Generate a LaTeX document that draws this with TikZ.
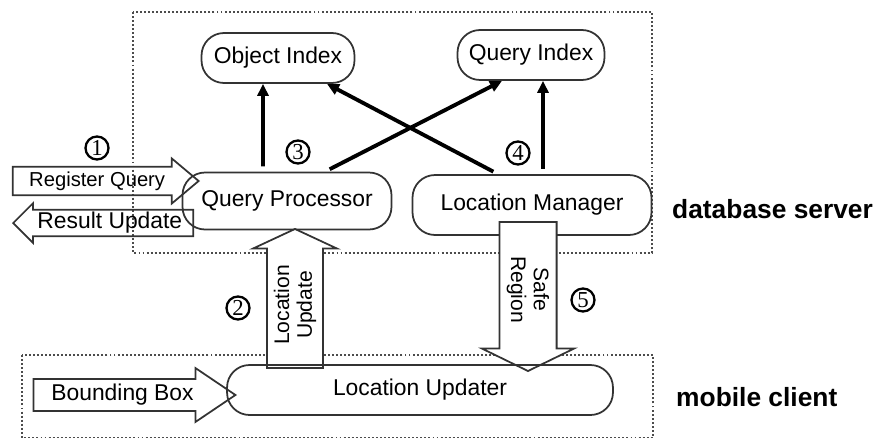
\documentclass[tikz,border=0pt]{standalone}
\usepackage{fontspec}
\setmainfont{Liberation Sans}
\newfontfamily\numfont{Liberation Serif}
\usetikzlibrary{positioning, shapes.arrows, arrows.meta}

\begin{document}
\begin{tikzpicture}[
        x=0.02cm, y=-0.02cm,
        module/.style={
            rectangle,
            draw=black!80,
            line width=1pt,
            rounded corners=0.45cm,
            inner sep=2pt,
            font=\fontsize{13}{15}\selectfont
        },
        flow/.style={
            single arrow,
            draw=black!80,
            line width=1pt,
            inner sep=1pt,
            align=center,
            font=\fontsize{13}{15}\selectfont
        },
        link/.style={
            -{Triangle[length=0.24cm,width=0.22cm]},
            line width=2.2pt,
            shorten <=3pt
        },
        stepno/.style={
            circle,
            draw,
            line width=1.3pt,
            minimum size=0.46cm,
            inner sep=0pt,
            font=\numfont\fontsize{13}{13}\selectfont
        },
        group/.style={
            draw=black!70,
            line width=1pt,
            dash pattern=on 1.1pt off 1.2pt
        },
        tier/.style={
            anchor=west,
            font=\bfseries\fontsize{15}{18}\selectfont
        }
    ]
    \useasboundingbox (0,0) rectangle (875,439);

    % Server and client tiers
    \draw[group] (133,12) rectangle (652,253);
    \draw[group] (22,355) rectangle (653,437.5);

    % Server modules
    \node[module, minimum width=3.06cm, minimum height=1cm] (objidx) at (278,58) {Object Index};
    \node[module, minimum width=2.94cm, minimum height=1cm] (qryidx) at (531,55) {Query Index};
    \node[module, minimum width=4.18cm, minimum height=1.14cm] (qproc) at (287,201) {Query Processor};
    \node[module, minimum width=4.78cm, minimum height=1.2cm] (locmgr) at (532,205) {Location Manager};

    % Query in, results out
    \node[flow, font=\fontsize{11.5}{13}\selectfont, minimum height=3.72cm, minimum width=0.9cm,
          single arrow head extend=0.14cm, single arrow tip angle=80, anchor=tip] (regq) at (200,181) {Register Query};
    \node[flow, shape border rotate=180, minimum height=3.6cm, minimum width=0.76cm,
          single arrow head extend=0.13cm, single arrow tip angle=90, anchor=tip] (resupd) at (12,223) {Result Update};

    % Between client and server
    \node[flow, fill=white, rotate=90, font=\fontsize{12}{13}\selectfont, minimum height=2.78cm, minimum width=1.68cm,
          single arrow head extend=0.24cm, single arrow tip angle=130, anchor=tip] (locup) at (295,228) {Location\\Update};
    \node[flow, fill=white, rotate=-90, font=\fontsize{12}{13}\selectfont, minimum height=2.98cm, minimum width=1.84cm,
          single arrow head extend=0.29cm, single arrow tip angle=128, anchor=tip] (safereg) at (528,372) {Safe\\Region};

    % Client side
    \node[flow, minimum height=4.04cm, minimum width=1.08cm,
          single arrow head extend=0.18cm, single arrow tip angle=68, anchor=tip] (bbox) at (237,395) {Bounding Box};
    \node[module, minimum width=7.72cm, minimum height=1cm] (locupd) at (420,390) {Location Updater};

    % Index accesses
    \draw[link] ([xshift=-0.48cm]qproc.north) -- ([xshift=-0.3cm]objidx.south);
    \draw[link] ([xshift=0.76cm]qproc.north) -- ([xshift=-0.58cm]qryidx.south);
    \draw[link] ([xshift=-0.68cm]locmgr.north) -- ([xshift=0.98cm]objidx.south);
    \draw[link] ([xshift=0.22cm]locmgr.north) -- ([xshift=0.24cm]qryidx.south);

    % Steps
    \node[stepno] (s1) at (97,148) {1};
    \node[stepno] (s2) at (238,308) {2};
    \node[stepno] (s3) at (298,152) {3};
    \node[stepno] (s4) at (518,153) {4};
    \node[stepno] (s5) at (583,300) {5};

    % Tier labels
    \node[tier] (server) at (666,209) {database server};
    \node[tier] (client) at (670,397) {mobile client};

\end{tikzpicture}
\end{document}
